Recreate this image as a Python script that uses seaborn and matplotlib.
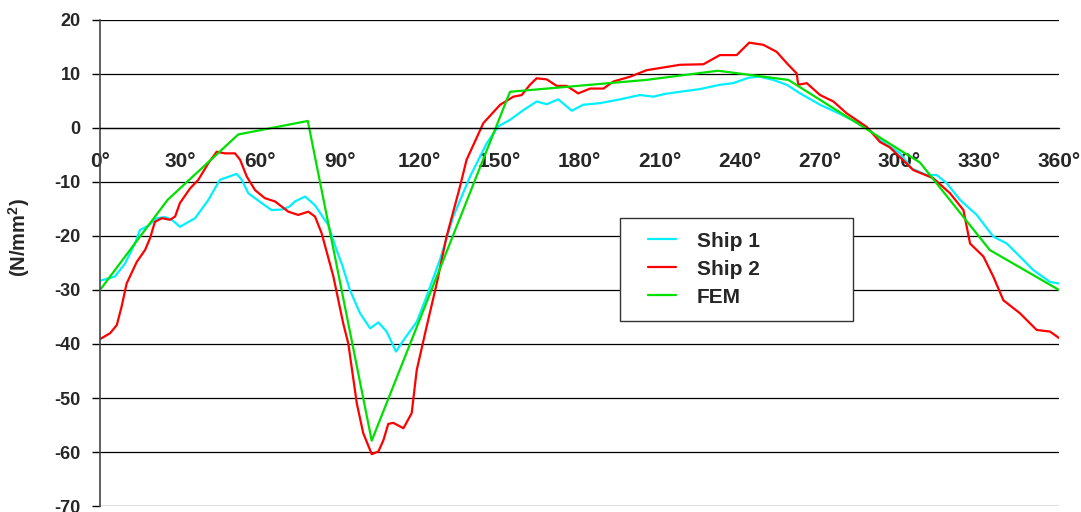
import numpy as np
import pandas as pd
import matplotlib
matplotlib.use("Agg")
import matplotlib.pyplot as plt
import seaborn as sns
from matplotlib.legend_handler import HandlerLine2D

# Data (angle in degrees, stress in N/mm2)
ship1_x = [0, 5.6, 9.4, 13.1, 15, 18.1, 21.3, 24.4, 27, 30, 35.7, 40.7, 45, 51.3, 53.2,
           55.7, 60.7, 64.4, 68.2, 71, 73.2, 77, 80.7, 85.7, 88.8, 91, 93.8, 97.6, 101.4,
           104.5, 107.6, 111.1, 114.5, 118.9, 122.6, 127.6, 132.6, 138.9, 145.2, 149.5,
           153.9, 158.9, 163.9, 167.7, 172, 177.1, 181.4, 187.7, 195.2, 202.7, 207.7, 212,
           217.7, 225.2, 232.7, 237.7, 243.4, 247.7, 252.7, 257.8, 262.8, 270.3, 277.8,
           283, 288, 292.8, 300.3, 304.7, 310.3, 314, 317.8, 322.8, 329.1, 335.3, 340.4,
           345.3, 350.3, 356.6, 360]
ship1_y = [-28.3, -27.5, -25.1, -21.4, -18.9, -18.1, -16.7, -16.5, -17, -18.3, -16.7, -13.3,
           -9.6, -8.5, -9.6, -12.1, -13.9, -15.2, -15.1, -14.6, -13.6, -12.7, -14.3, -18,
           -22.6, -25.5, -30, -34.3, -37.1, -36, -37.7, -41.4, -38.9, -35.9, -31.2, -24.4,
           -16.4, -9, -2.8, 0.3, 1.5, 3.3, 4.9, 4.4, 5.3, 3.2, 4.3, 4.6, 5.3, 6.1, 5.8, 6.3,
           6.7, 7.2, 8, 8.3, 9.3, 9.5, 8.9, 8, 6.4, 4.3, 2.6, 1.3, 0, -2.2, -4.7, -7.5,
           -8.7, -8.7, -10.2, -13.3, -16.1, -20.1, -21.4, -23.8, -26.3, -28.5, -28.8]

ship2_x = [0, 3.8, 6.3, 8.1, 10, 13.8, 16.9, 18.8, 20.6, 23.2, 26.3, 28.2, 30, 33.8, 36.9,
           40.7, 43.8, 46.9, 50.7, 52.6, 55.1, 58.2, 61.9, 65.7, 70.7, 74.4, 78.2, 80.7,
           83.2, 87.6, 91.3, 93.2, 96.4, 98.8, 102, 104.5, 106.4, 108.2, 110.1, 113.9, 117,
           118.9, 122.6, 126.4, 130.1, 135.1, 137.6, 143.9, 150.2, 155.2, 158.3, 161.4,
           163.9, 167.7, 171.4, 175.2, 179.5, 184, 189, 192.7, 199, 205.2, 210.2, 217.7,
           226.5, 232.7, 239, 243.7, 249, 254, 257.8, 261.5, 262.1, 265.3, 270.3, 275.3,
           280.3, 287.8, 292.8, 296.5, 300.5, 305.3, 312.8, 319.1, 324.1, 326.6, 331.6,
           335.3, 339.1, 345.3, 351.6, 356.6, 360]
ship2_y = [-39.1, -38, -36.5, -33.1, -28.8, -24.8, -22.6, -20.4, -17.4, -16.7, -17, -16.4,
           -13.9, -11.2, -9.6, -6.5, -4.4, -4.7, -4.7, -5.9, -9, -11.5, -13, -13.6, -15.5,
           -16.1, -15.5, -16.4, -19.5, -27.5, -36.2, -39.9, -51, -56.5, -60.4, -59.9, -57.8,
           -54.8, -54.6, -55.6, -52.8, -44.8, -36.8, -28.8, -20.1, -10.9, -5.9, 0.9, 4.3,
           5.8, 6.1, 8, 9.2, 9, 7.8, 7.8, 6.4, 7.3, 7.3, 8.6, 9.5, 10.7, 11.1, 11.7, 11.8,
           13.5, 13.5, 15.8, 15.4, 14.1, 12, 10.1, 8, 8.3, 6.1, 4.9, 2.7, 0.2, -2.6, -3.6,
           -5.5, -7.8, -9.3, -12.1, -15.2, -21.4, -23.8, -27.5, -31.9, -34.3, -37.4, -37.7,
           -38.9]

fem_x = [0, 25.4, 51.9, 78, 102, 153.9, 205, 232, 258.4, 300.3, 307.8, 334, 360]
fem_y = [-30, -13.3, -1.2, 1.3, -57.9, 6.7, 8.9, 10.6, 8.9, -4.1, -6.4, -22.6, -30]

x_ticks = [0, 30, 60, 90, 120, 150, 180, 210, 240, 270, 300, 330, 360]
x_labels = [f"{t}°" for t in x_ticks]
y_ticks = [-70, -60, -50, -40, -30, -20, -10, 0, 10, 20]

sns.set_style("white")
plt.rcParams["font.family"] = ["Liberation Sans", "DejaVu Sans"]
plt.rcParams["font.weight"] = "bold"
plt.rcParams["mathtext.fontset"] = "custom"
plt.rcParams["mathtext.rm"] = "Liberation Sans:bold"
plt.rcParams["mathtext.bf"] = "Liberation Sans:bold"

fig = plt.figure(figsize=(10.81, 5.12), dpi=100)
ax = fig.add_axes([0.0925, 0.0117, 0.8872, 0.9493])

sns.lineplot(x=ship1_x, y=ship1_y, ax=ax, color="#00f0ff", linewidth=1.6,
             label="Ship 1", sort=False, estimator=None)
sns.lineplot(x=ship2_x, y=ship2_y, ax=ax, color="#ff0000", linewidth=1.6,
             label="Ship 2", sort=False, estimator=None)
sns.lineplot(x=fem_x, y=fem_y, ax=ax, color="#00e000", linewidth=1.6,
             label="FEM", sort=False, estimator=None)

ax.set_xlim(0, 360)
ax.set_ylim(-70, 20)

# spines first (moving a spine resets the tick labels)
for side in ["top", "right"]:
    ax.spines[side].set_visible(False)
ax.spines["left"].set_color("#444444")
ax.spines["left"].set_linewidth(1.2)
ax.spines["bottom"].set_position(("data", 0))
ax.spines["bottom"].set_color("black")
ax.spines["bottom"].set_linewidth(0.9)

# horizontal grid lines
for yv in y_ticks:
    ax.axhline(yv, color="black", linewidth=0.9, zorder=0)

ax.set_yticks(y_ticks)
ax.set_yticklabels([str(v) for v in y_ticks])
ax.set_xticks(x_ticks)
ax.set_xticklabels(x_labels)

ax.tick_params(axis="x", direction="out", length=6, width=1, pad=11, color="black",
               labelsize=15)
ax.tick_params(axis="y", direction="out", length=6, width=1, pad=8, color="black",
               left=True, labelsize=13)
for lab in ax.get_xticklabels() + ax.get_yticklabels():
    lab.set_fontweight("bold")

ax.set_xlabel("")
ax.set_ylabel(r"(N/mm$^{\mathbf{2}}$)", fontsize=14.5, fontweight="bold")
ax.yaxis.set_label_coords(-0.071, 0.552)

leg = ax.legend(loc="upper left", bbox_to_anchor=(0.542, 0.381, 0.243, 0.212),
                mode="expand", borderaxespad=0, fontsize=15, frameon=True,
                fancybox=False, framealpha=1, edgecolor="#333333",
                handlelength=2.02, handletextpad=1.0, labelspacing=0.43, borderpad=0.67,
                handler_map={matplotlib.lines.Line2D: HandlerLine2D(xpad=0.67)})
leg.get_frame().set_linewidth(1)
for t in leg.get_texts():
    t.set_fontweight("bold")

fig.savefig("out.png", dpi=100)
